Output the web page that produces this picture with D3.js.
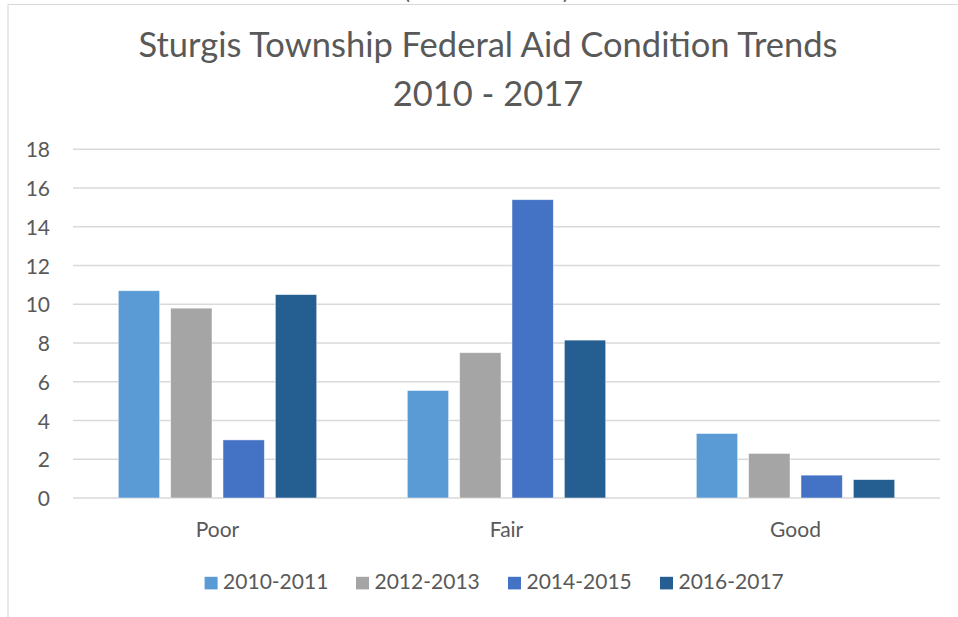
<!DOCTYPE html>
<html>
<head>
<meta charset="utf-8">
<script src="https://cdnjs.cloudflare.com/ajax/libs/d3/7.8.5/d3.min.js"></script>
<style>
  html, body { margin: 0; padding: 0; background: #fff; }
  svg { display: block; }
</style>
</head>
<body>
<div id="wrapper"></div>
<script>
const categories = ["Poor", "Fair", "Good"];
const seriesNames = ["2010-2011", "2012-2013", "2014-2015", "2016-2017"];
const seriesColors = ["#5b9bd5", "#a5a5a5", "#4472c4", "#255e91"];
const values2010 = [10.7, 5.55, 3.33];
const values2012 = [9.8, 7.5, 2.3];
const values2014 = [3.0, 15.4, 1.18];
const values2016 = [10.5, 8.15, 0.95];
const yTicks = [0, 2, 4, 6, 8, 10, 12, 14, 16, 18];
const titleLines = ["Sturgis Township Federal Aid Condition Trends", "2010 - 2017"];

const seriesValues = [values2010, values2012, values2014, values2016];

function buildChart() {
  const dimensions = { width: 958, height: 617 };
  const font = "Lato, 'Open Sans', sans-serif";
  const textColor = "#595959";

  const svg = d3.select("#wrapper").append("svg")
    .attr("width", dimensions.width)
    .attr("height", dimensions.height);

  // frame of the chart area (top and left edges are visible)
  svg.append("line")
    .attr("x1", 8).attr("x2", dimensions.width)
    .attr("y1", 4.5).attr("y2", 4.5)
    .attr("stroke", "#d9d9d9").attr("stroke-width", 1.2);
  svg.append("line")
    .attr("x1", 8).attr("x2", 8)
    .attr("y1", 4.5).attr("y2", dimensions.height)
    .attr("stroke", "#d9d9d9").attr("stroke-width", 1.2);

  // clipped text peeking in from above (only the bottoms of the brackets show)
  svg.append("text").attr("x", 404).attr("y", -1)
    .attr("font-family", font).attr("font-size", 22).attr("fill", textColor).text("(");
  svg.append("text").attr("x", 563).attr("y", -1)
    .attr("font-family", font).attr("font-size", 22).attr("fill", textColor).text(")");

  // title
  const title = svg.append("g");
  const titleBaselines = [57, 106];
  titleLines.forEach((line, i) => {
    title.append("text")
      .attr("x", 488)
      .attr("y", titleBaselines[i])
      .attr("text-anchor", "middle")
      .attr("font-family", font)
      .attr("font-size", 34.5)
      .attr("fill", textColor)
      .text(line);
  });

  const margin = { left: 73, right: 940, top: 149.3, bottom: 498 };

  const y = d3.scaleLinear()
    .domain([0, 18])
    .range([margin.bottom, margin.top]);

  const x0 = d3.scaleBand()
    .domain(categories)
    .range([margin.left, margin.right])
    .padding(0);

  const groupWidth = x0.bandwidth() * 0.6865;
  const x1 = d3.scaleBand()
    .domain(seriesNames)
    .range([(x0.bandwidth() - groupWidth) / 2, (x0.bandwidth() + groupWidth) / 2])
    .paddingInner(0.21);

  const bounds = svg.append("g");

  // gridlines
  bounds.selectAll(".grid")
    .data(yTicks)
    .enter()
    .append("line")
    .attr("class", "grid")
    .attr("x1", margin.left)
    .attr("x2", margin.right)
    .attr("y1", d => y(d))
    .attr("y2", d => y(d))
    .attr("stroke", "#d9d9d9")
    .attr("stroke-width", 1.5);

  // y axis labels
  const yAxis = d3.axisLeft(y).tickValues(yTicks).tickSize(0).tickPadding(0);
  const yAxisGroup = bounds.append("g")
    .attr("transform", "translate(50,0)")
    .call(yAxis);
  yAxisGroup.select(".domain").remove();
  yAxisGroup.selectAll("text")
    .attr("font-family", font)
    .attr("font-size", 21)
    .attr("fill", textColor)
    .attr("dy", "0.36em");

  // bars
  const groups = bounds.selectAll(".group")
    .data(categories)
    .enter()
    .append("g")
    .attr("class", "group")
    .attr("transform", d => `translate(${x0(d)},0)`);

  groups.selectAll("rect")
    .data((d, ci) => seriesNames.map((s, si) => ({ series: s, si, value: seriesValues[si][ci] })))
    .enter()
    .append("rect")
    .attr("x", d => x1(d.series))
    .attr("y", d => y(d.value))
    .attr("width", x1.bandwidth())
    .attr("height", d => y(0) - y(d.value))
    .attr("fill", d => seriesColors[d.si])
    .attr("stroke", "#ffffff")
    .attr("stroke-opacity", 0.6)
    .attr("stroke-width", 0.8);

  // category labels
  const xAxis = d3.axisBottom(x0).tickSize(0).tickPadding(0);
  const xAxisGroup = bounds.append("g")
    .attr("transform", "translate(0,536.5)")
    .call(xAxis);
  xAxisGroup.select(".domain").remove();
  xAxisGroup.selectAll("text")
    .attr("font-family", font)
    .attr("font-size", 21)
    .attr("fill", textColor)
    .attr("dy", 0);

  // legend
  const legendX = [204.6, 356, 508, 660];
  const legend = svg.append("g");
  const items = legend.selectAll(".legend-item")
    .data(seriesNames)
    .enter()
    .append("g")
    .attr("class", "legend-item")
    .attr("transform", (d, i) => `translate(${legendX[i]},0)`);

  items.append("rect")
    .attr("x", 0)
    .attr("y", 576.8)
    .attr("width", 13)
    .attr("height", 12.6)
    .attr("fill", (d, i) => seriesColors[i]);

  items.append("text")
    .attr("x", 18.5)
    .attr("y", 589.3)
    .attr("font-family", font)
    .attr("font-size", 21)
    .attr("fill", textColor)
    .text(d => d);
}

buildChart();
</script>
</body>
</html>
